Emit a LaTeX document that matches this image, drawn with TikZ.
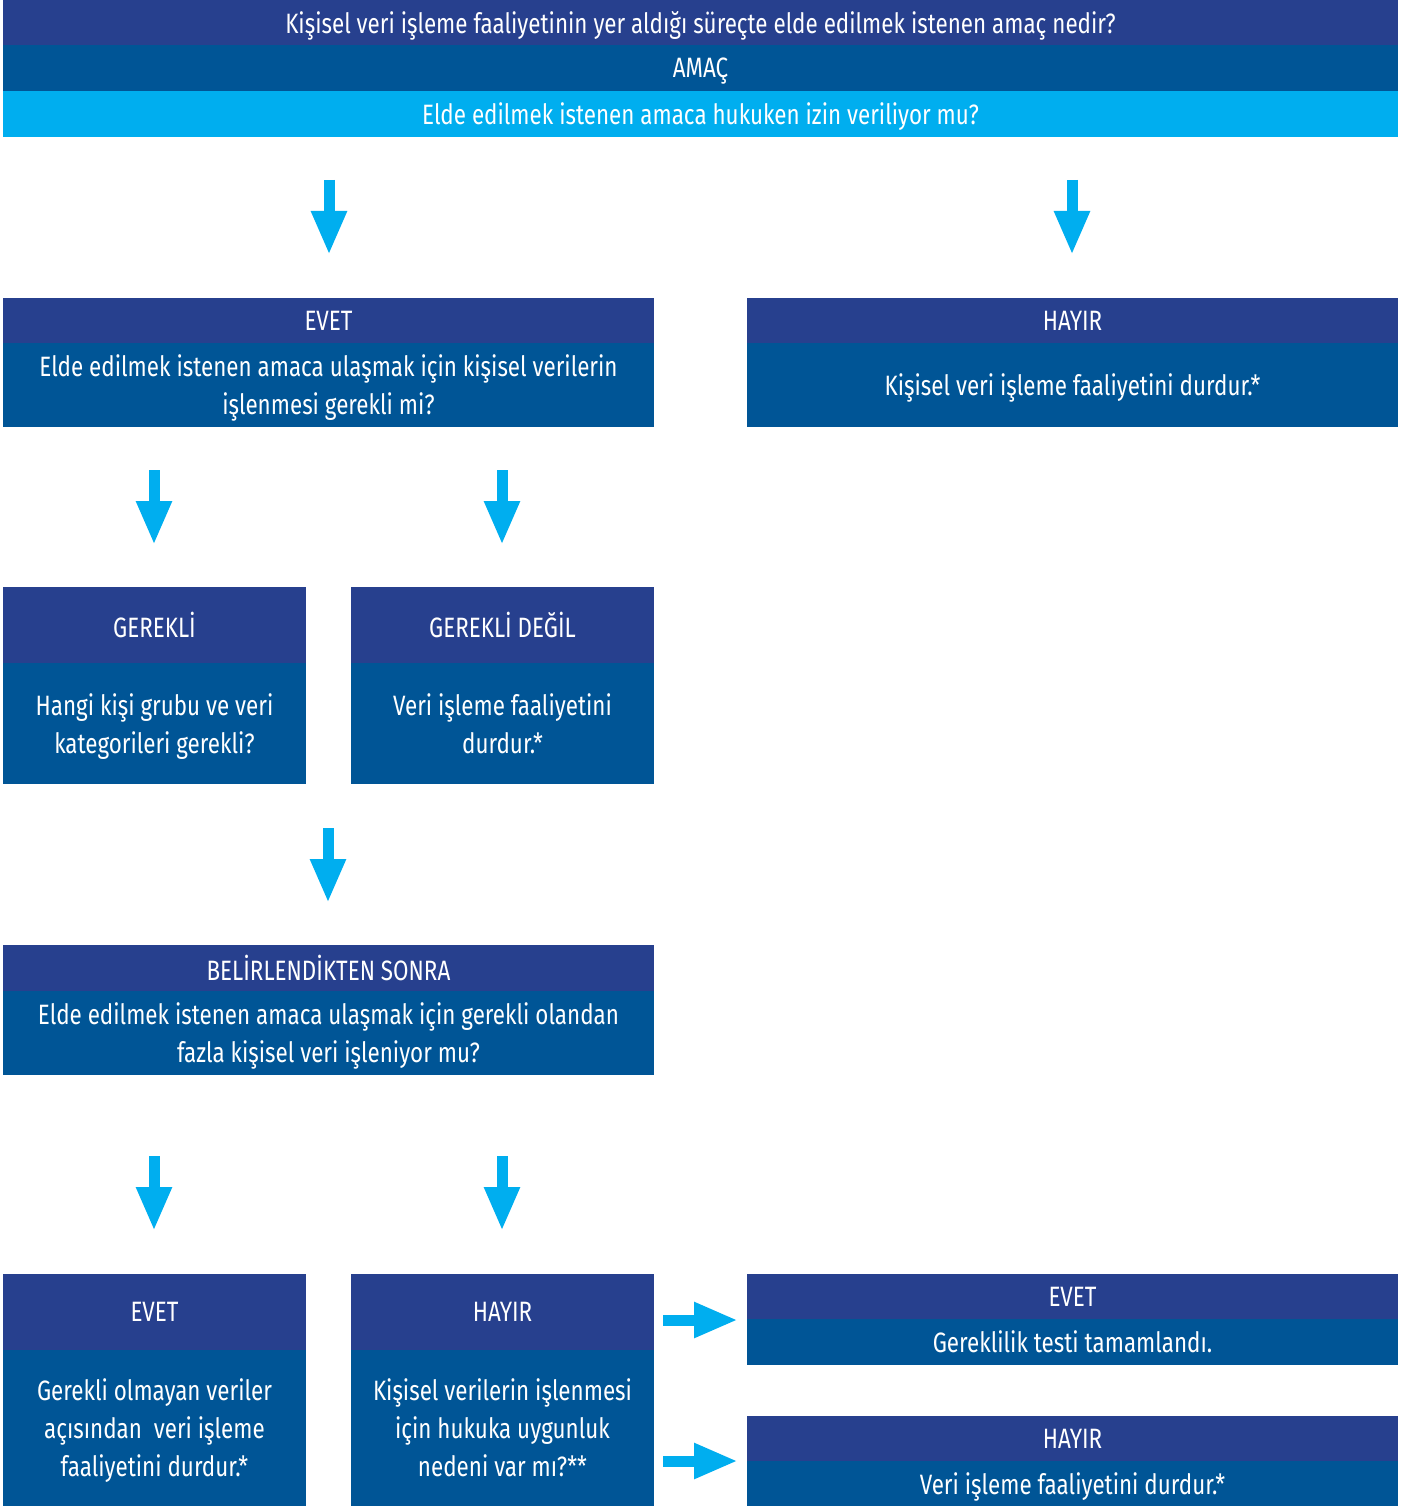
\documentclass[tikz,border=0pt]{standalone}
\usepackage{fontspec}
\setmainfont{Fira Sans}[FakeStretch=0.8]
\usetikzlibrary{arrows.meta}
\definecolor{navy}{RGB}{39,64,142}
\definecolor{midblue}{RGB}{0,85,150}
\definecolor{lightblue}{RGB}{0,174,239}
\begin{document}
\begin{tikzpicture}[x=1pt,y=-1pt,
  box/.style={rectangle,inner sep=0pt,outer sep=0pt,text=white,align=center,
    text depth=0pt,font=\fontsize{28}{38}\selectfont},
  hdr/.style={box,fill=navy},
  bdy/.style={box,fill=midblue},
  lgt/.style={box,fill=lightblue},
  wide/.style={minimum width=651},
  full/.style={minimum width=1395},
  narrow/.style={minimum width=303},
  bigarr/.style={draw=lightblue,line width=11pt,-{Triangle[length=44pt,width=33pt,fill=lightblue]}}
]
\useasboundingbox[fill=white] (0,0) rectangle (1419,1506);

% top bands
\node[hdr,full,minimum height=45] (q1) at (700.5,22.5) {Kişisel veri işleme faaliyetinin yer aldığı süreçte elde edilmek istenen amaç nedir?};
\node[bdy,full,minimum height=46] (amac) at (700.5,68) {AMAÇ};
\node[lgt,full,minimum height=46] (q2) at (700.5,114) {Elde edilmek istenen amaca hukuken izin veriliyor mu?};

% level 2
\node[hdr,wide,minimum height=45] (evet1) at (328.5,320.5) {EVET};
\node[bdy,wide,minimum height=84] (evet1b) at (328.5,385) {Elde edilmek istenen amaca ulaşmak için kişisel verilerin\\işlenmesi gerekli mi?};
\node[hdr,wide,minimum height=45] (hayir1) at (1072.5,320.5) {HAYIR};
\node[bdy,wide,minimum height=84] (hayir1b) at (1072.5,385) {Kişisel veri işleme faaliyetini durdur.*};

% level 3
\node[hdr,narrow,minimum height=76] (gerekli) at (154.5,625) {GEREKLİ};
\node[bdy,narrow,minimum height=121] (gereklib) at (154.5,723.5) {Hangi kişi grubu ve veri\\kategorileri gerekli?};
\node[hdr,narrow,minimum height=76] (gdegil) at (502.5,625) {GEREKLİ DEĞİL};
\node[bdy,narrow,minimum height=121] (gdegilb) at (502.5,723.5) {Veri işleme faaliyetini\\durdur.*};

% level 4
\node[hdr,wide,minimum height=46] (bel) at (328.5,968) {BELİRLENDİKTEN SONRA};
\node[bdy,wide,minimum height=84] (belb) at (328.5,1033) {Elde edilmek istenen amaca ulaşmak için gerekli olandan\\fazla kişisel veri işleniyor mu?};

% level 5
\node[hdr,narrow,minimum height=76] (evet2) at (154.5,1312) {EVET};
\node[bdy,narrow,minimum height=156] (evet2b) at (154.5,1428) {Gerekli olmayan veriler\\açısından\ \ veri işleme\\faaliyetini durdur.*};
\node[hdr,narrow,minimum height=76] (hayir2) at (502.5,1312) {HAYIR};
\node[bdy,narrow,minimum height=156] (hayir2b) at (502.5,1428) {Kişisel verilerin işlenmesi\\için hukuka uygunluk\\nedeni var mı?**};

% right bottom
\node[hdr,wide,minimum height=45] (evet3) at (1072.5,1296.5) {EVET};
\node[bdy,wide,minimum height=46] (evet3b) at (1072.5,1342) {Gereklilik testi tamamlandı.};
\node[hdr,wide,minimum height=45] (hayir3) at (1072.5,1438.5) {HAYIR};
\node[bdy,wide,minimum height=45] (hayir3b) at (1072.5,1483.5) {Veri işleme faaliyetini durdur.*};

% arrow coordinates
\coordinate (a1s) at (329,180);  \coordinate (a1e) at (329,255);
\coordinate (a2s) at (1072,180); \coordinate (a2e) at (1072,255);
\coordinate (a3s) at (154,470);  \coordinate (a3e) at (154,545);
\coordinate (a4s) at (502,470);  \coordinate (a4e) at (502,545);
\coordinate (a5s) at (328,828);  \coordinate (a5e) at (328,903);
\coordinate (a6s) at (154,1156); \coordinate (a6e) at (154,1231);
\coordinate (a7s) at (502,1156); \coordinate (a7e) at (502,1231);
\coordinate (a8s) at (663,1320); \coordinate (a8e) at (738,1320);
\coordinate (a9s) at (663,1461); \coordinate (a9e) at (738,1461);

\foreach \i in {1,...,9}{\draw[bigarr] (a\i s) -- (a\i e);}
\end{tikzpicture}
\end{document}
